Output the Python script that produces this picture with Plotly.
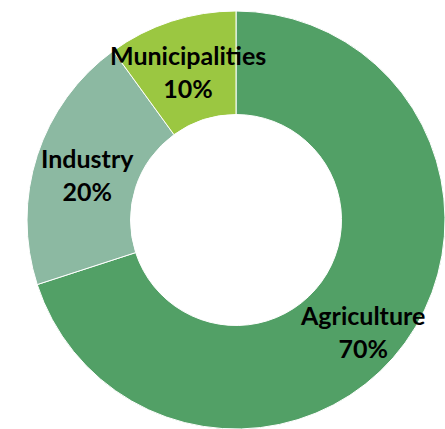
import plotly.graph_objects as go

categories = ["Agriculture", "Industry", "Municipalities"]
shares = [70, 20, 10]
colors = ["#52A066", "#8CB9A2", "#9BC741"]

# label anchor positions in window pixels (from top-left) - styling only
label_px = {"Agriculture": (362, 331), "Industry": (87, 174), "Municipalities": (188, 72)}

W, H = 445, 429
cx, cy = 236, 220
r = min(W - cx, H - cy, cx, cy)

fig = go.Figure(go.Pie(
    labels=categories,
    values=shares,
    hole=105.5 / r,
    sort=False,
    direction="clockwise",
    rotation=0,
    marker=dict(colors=colors, line=dict(color="white", width=1)),
    textinfo="none",
    hoverinfo="skip",
    domain=dict(x=[(cx - r) / W, (cx + r) / W], y=[1 - (cy + r) / H, 1 - (cy - r) / H]),
    showlegend=False,
))

total = sum(shares)
for cat, v in zip(categories, shares):
    px, py = label_px[cat]
    fig.add_annotation(
        x=px / W, y=1 - py / H, xref="paper", yref="paper",
        text=f"<b>{cat}<br>{round(100 * v / total)}%</b>",
        showarrow=False, xanchor="center", yanchor="middle",
        font=dict(family="Lato", size=25, color="black"),
    )

fig.update_layout(
    width=W, height=H,
    margin=dict(l=0, r=0, t=0, b=0),
    paper_bgcolor="white", plot_bgcolor="white",
)
fig.write_html(
    "out.html",
    config={"displayModeBar": False},
    post_script="document.body.style.margin='0';document.body.style.overflow='hidden';",
)
